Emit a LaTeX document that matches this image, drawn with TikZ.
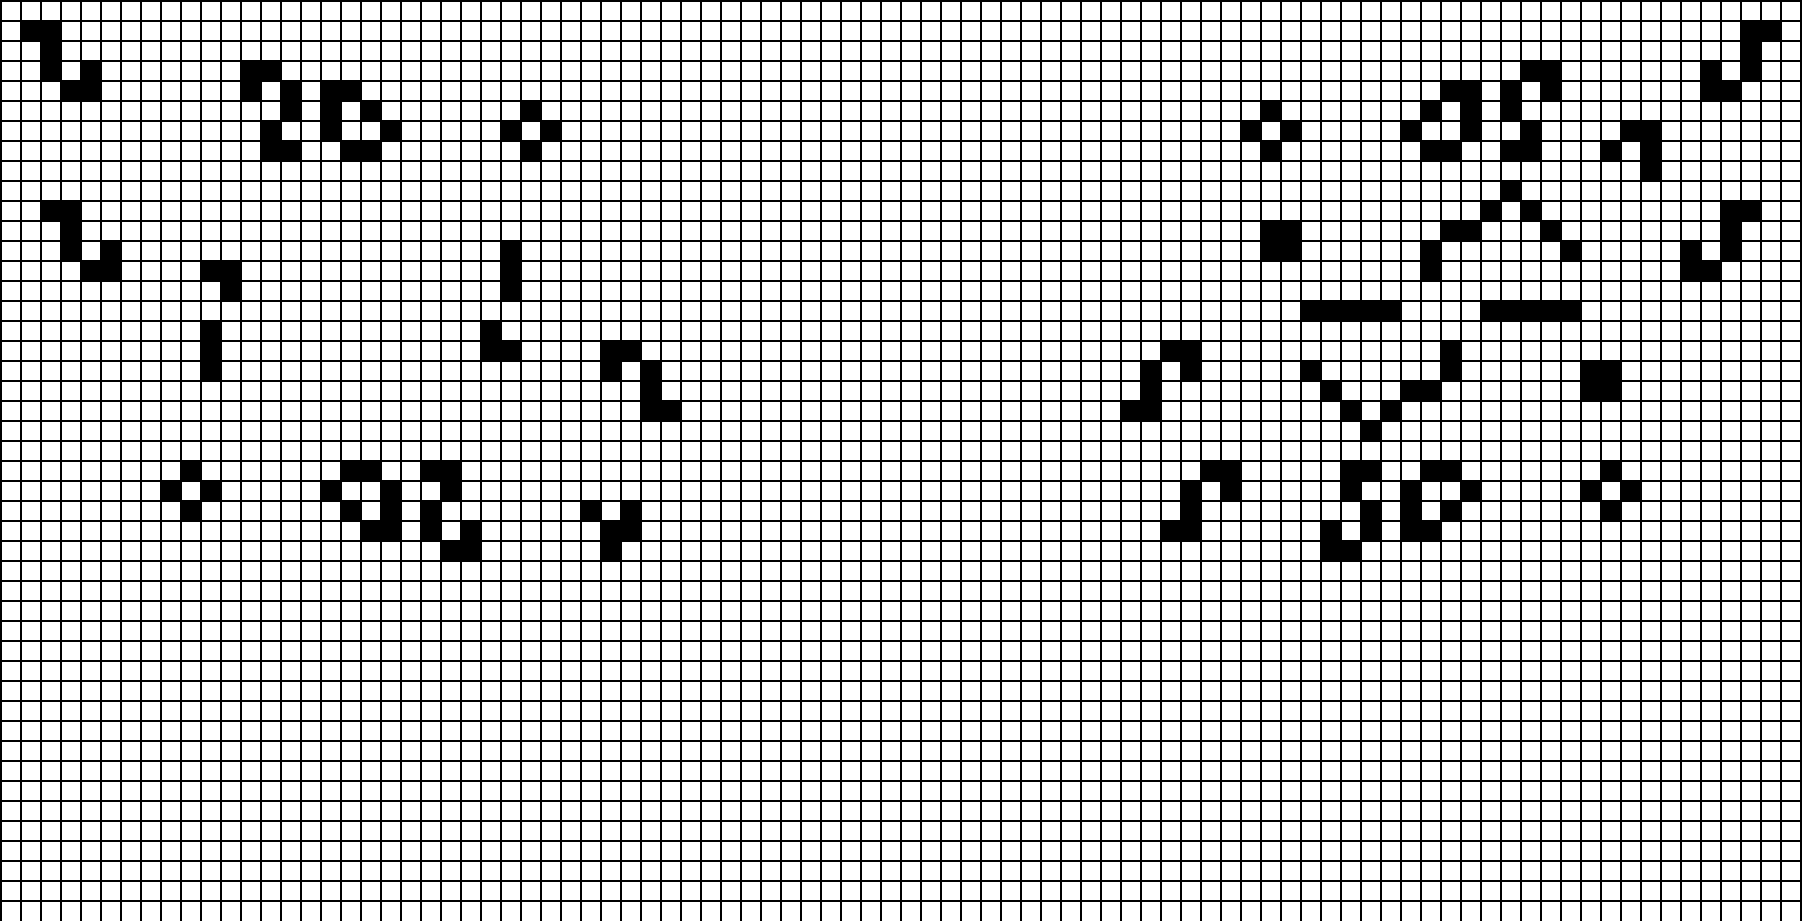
\documentclass[tikz,border=0pt]{standalone}
\begin{document}
\begin{tikzpicture}[x=10pt,y=-10pt,
  gridline/.style={line width=0.65pt,black},
  alive/.style={fill=black}]
\useasboundingbox (-0.05,-0.05) rectangle (90.05,46.0);
\fill[white] (-0.05,-0.05) rectangle (90.05,46.0);
% live cells (column/row)
\foreach \c/\r in {
  1/1,2/1,2/2,2/3,4/3,3/4,4/4,
  12/3,13/3,12/4,14/4,14/5,13/6,13/7,14/7,
  16/4,17/4,16/5,18/5,16/6,19/6,17/7,18/7,
  26/5,25/6,27/6,26/7,
  2/10,3/10,3/11,3/12,5/12,4/13,5/13,
  10/13,11/13,11/14,10/16,10/17,10/18,
  25/12,25/13,25/14,24/16,24/17,25/17,
  30/17,31/17,30/18,32/18,32/19,32/20,33/20,
  9/23,8/24,10/24,9/25,
  17/23,18/23,16/24,19/24,17/25,19/25,18/26,19/26,
  21/23,22/23,22/24,21/25,21/26,23/26,22/27,23/27,
  29/25,31/25,30/26,31/26,30/27,
  87/1,88/1,87/2,76/3,77/3,85/3,87/3,
  72/4,73/4,75/4,77/4,85/4,86/4,
  63/5,71/5,73/5,75/5,
  62/6,64/6,70/6,73/6,76/6,81/6,82/6,
  63/7,71/7,72/7,75/7,76/7,80/7,82/7,
  82/8,75/9,
  74/10,76/10,86/10,87/10,
  63/11,64/11,72/11,73/11,77/11,86/11,
  63/12,64/12,71/12,78/12,84/12,86/12,
  71/13,84/13,85/13,
  65/15,66/15,67/15,68/15,69/15,74/15,75/15,76/15,77/15,78/15,
  58/17,59/17,72/17,
  57/18,59/18,65/18,72/18,79/18,80/18,
  57/19,66/19,70/19,71/19,79/19,80/19,
  56/20,57/20,67/20,69/20,
  68/21,
  60/23,61/23,67/23,68/23,71/23,72/23,80/23,
  59/24,61/24,67/24,70/24,73/24,79/24,81/24,
  59/25,68/25,70/25,72/25,80/25,
  58/26,59/26,66/26,68/26,70/26,71/26,
  66/27,67/27}
  \fill[alive] (\c,\r) rectangle ++(1,1);
% grid
\foreach \i in {0,...,90}
  \draw[gridline] (\i,-0.05) -- (\i,46.0);
\foreach \j in {0,...,45}
  \draw[gridline] (-0.05,\j) -- (90.05,\j);
\end{tikzpicture}
\end{document}
